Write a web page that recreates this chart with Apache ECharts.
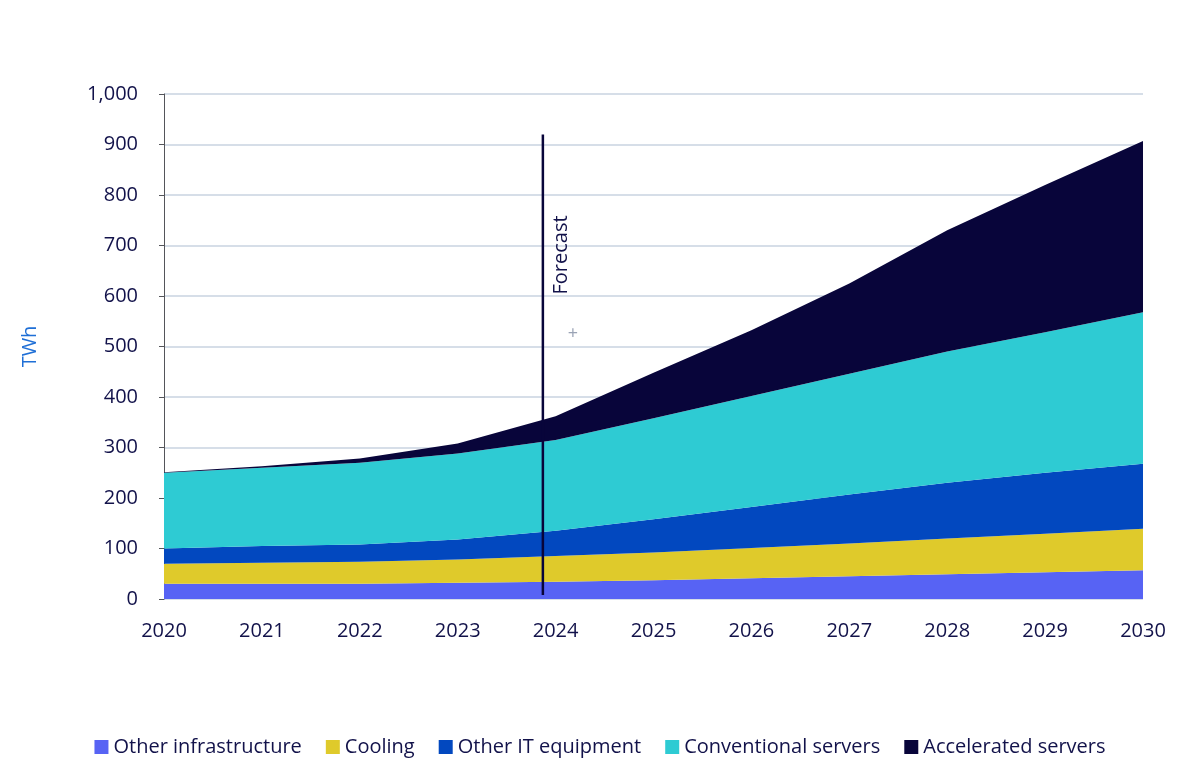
<!DOCTYPE html>
<html><head><meta charset="utf-8">
<script src="https://cdn.jsdelivr.net/npm/echarts@6/dist/echarts.min.js"></script>
<style>html,body{margin:0;background:#fff}#c{width:1200px;height:772px}</style>
</head><body><div id="c"></div>
<script>
var years = ['2020','2021','2022','2023','2024','2025','2026','2027','2028','2029','2030'];
var otherInfra = [30,30,30,32,34,37,41,45,49,53,57];
var cooling = [40,42,44,46,51,55,60,65,71,76,82];
var otherIT = [30,33,34,40,50,66,81,97,110,121,129];
var conventional = [150,155,162,170,180,200,220,239,260,278,300];
var accelerated = [1,3,8,20,47,90,130,179,240,292,339];
var forecastAt = 3.87; // position on the year axis

var chart = echarts.init(document.getElementById('c'));
var txt = '#12124a';
function area(name, data, color) {
    return {name: name, type: 'line', stack: 'a', data: data, symbol: 'none',
        lineStyle: {width: 0}, areaStyle: {color: color, opacity: 1}, itemStyle: {color: color}};
}
chart.setOption({
    animation: false,
    grid: {left: 164, right: 57, top: 94, bottom: 173},
    legend: {bottom: 10, left: 'center', itemWidth: 14, itemHeight: 14, itemGap: 24,
        textStyle: {fontSize: 20, color: txt, fontFamily: 'Open Sans'}, icon: 'rect',
        data: ['Other infrastructure','Cooling','Other IT equipment','Conventional servers','Accelerated servers']},
    xAxis: [{type: 'category', data: years, boundaryGap: false,
        axisLine: {show: false}, axisTick: {show: false},
        axisLabel: {fontSize: 20, color: txt, margin: 22, fontFamily: 'Open Sans'}},
        {type: 'value', min: 0, max: 10, show: false}],
    yAxis: {type: 'value', min: 0, max: 1000, interval: 100, name: 'TWh', nameLocation: 'middle',
        nameGap: 124, nameTextStyle: {fontSize: 20, color: '#1f6fd6', fontFamily: 'Open Sans'},
        axisLabel: {fontSize: 20, color: txt, margin: 26, fontFamily: 'Open Sans'},
        splitLine: {lineStyle: {color: '#c9d3e0', width: 1.5}}},
    series: [
        area('Other infrastructure', otherInfra, '#5763f4'),
        area('Cooling', cooling, '#dfca2b'),
        area('Other IT equipment', otherIT, '#0248bf'),
        area('Conventional servers', conventional, '#2ecbd3'),
        area('Accelerated servers', accelerated, '#08053a'),
        {type: 'line', xAxisIndex: 1, data: [], silent: true}
    ]
});
var p1 = chart.convertToPixel({xAxisIndex: 1, yAxisIndex: 0}, [forecastAt, 920]);
var p2 = chart.convertToPixel({xAxisIndex: 1, yAxisIndex: 0}, [forecastAt, 8]);
chart.setOption({graphic: [
    {type: 'line', shape: {x1: p1[0], y1: p1[1], x2: p2[0], y2: p2[1]}, style: {stroke: '#08053a', lineWidth: 2.5}, z: 100},
    {type: 'text', x: p1[0] + 18, y: 255, rotation: Math.PI / 2, z: 100,
        style: {text: 'Forecast', fill: txt, font: '20px "Open Sans"', align: 'center', verticalAlign: 'middle'}},
    {type: 'text', x: p1[0] + 30, y: 334, z: 100,
        style: {text: '+', fill: '#9aa3b5', font: '18px "Open Sans"', align: 'center', verticalAlign: 'middle'}}
]});
</script></body></html>
